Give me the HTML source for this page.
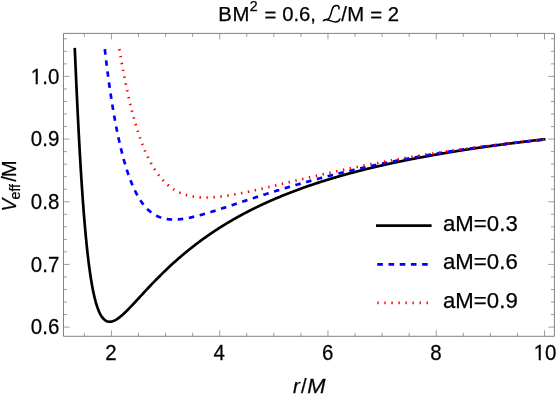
<!DOCTYPE html>
<html><head><meta charset="utf-8"><title>Veff plot</title>
<style>
html,body{margin:0;padding:0;background:#fff;}
body{width:556px;height:395px;overflow:hidden;}
svg{display:block;will-change:transform;}
text{font-family:"Liberation Sans",sans-serif;fill:#000;}
.tk text{font-size:21.0px;letter-spacing:0px;}
.ttl text{font-size:20.3px;}
.lg text{font-size:22.2px;letter-spacing:0.05px;}
text{stroke:#000;stroke-width:0.25px;}
.it{font-style:italic;}
</style></head><body>
<svg width="556" height="395" viewBox="0 0 556 395">
<rect x="0" y="0" width="556" height="395" fill="#fff"/>
<!-- curves -->
<g fill="none" stroke-linejoin="round" stroke-linecap="butt" stroke-width="2.7">
<path d="M74.76 47.87 L74.81 49.03 L74.86 50.18 L74.91 51.33 L74.96 52.47 L75.01 53.62 L75.06 54.76 L75.10 55.90 L75.15 57.04 L75.20 58.17 L75.25 59.31 L75.30 60.44 L75.35 61.56 L75.40 62.69 L75.45 63.81 L75.49 64.93 L75.54 66.05 L75.59 67.17 L75.64 68.28 L75.69 69.39 L75.74 70.50 L75.79 71.60 L75.84 72.70 L75.88 73.80 L75.93 74.90 L75.98 75.99 L76.03 77.09 L76.08 78.18 L76.13 79.26 L76.18 80.35 L76.23 81.43 L76.27 82.50 L76.32 83.58 L76.37 84.65 L76.42 85.72 L76.47 86.79 L76.52 87.85 L76.57 88.91 L76.62 89.97 L76.66 91.03 L76.71 92.08 L76.76 93.13 L76.81 94.18 L76.86 95.22 L76.91 96.26 L76.96 97.30 L77.01 98.33 L77.05 99.36 L77.10 100.39 L77.15 101.42 L77.20 102.44 L77.25 103.46 L77.30 104.48 L77.35 105.50 L77.40 106.51 L77.44 107.51 L77.49 108.52 L77.54 109.52 L77.59 110.52 L77.64 111.52 L77.69 112.51 L77.74 113.50 L77.78 114.49 L77.83 115.47 L77.88 116.45 L77.93 117.43 L77.98 118.41 L78.03 119.38 L78.08 120.35 L78.13 121.31 L78.17 122.27 L78.22 123.23 L78.27 124.19 L78.32 125.14 L78.37 126.09 L78.42 127.04 L78.47 127.98 L78.52 128.92 L78.56 129.86 L78.61 130.80 L78.66 131.73 L78.71 132.66 L78.76 133.58 L78.81 134.50 L78.86 135.42 L78.91 136.34 L78.95 137.25 L79.00 138.16 L79.05 139.07 L79.10 139.97 L79.15 140.87 L79.20 141.77 L79.25 142.66 L79.30 143.56 L79.34 144.44 L79.39 145.33 L79.44 146.21 L79.49 147.09 L79.54 147.96 L79.59 148.84 L79.64 149.71 L79.69 150.57 L79.73 151.44 L79.78 152.30 L79.83 153.15 L79.88 154.01 L79.93 154.86 L79.98 155.70 L80.03 156.55 L80.08 157.39 L80.12 158.23 L80.17 159.06 L80.22 159.90 L80.27 160.73 L80.32 161.55 L80.37 162.38 L80.42 163.20 L80.47 164.01 L80.51 164.83 L80.56 165.64 L80.61 166.45 L80.66 167.25 L80.71 168.05 L80.76 168.85 L80.81 169.65 L80.85 170.44 L80.90 171.23 L80.95 172.01 L81.00 172.80 L81.05 173.58 L81.10 174.36 L81.15 175.13 L81.20 175.90 L81.24 176.67 L81.29 177.44 L81.34 178.20 L81.39 178.96 L81.44 179.72 L81.49 180.47 L81.54 181.22 L81.59 181.97 L81.63 182.71 L81.68 183.45 L81.73 184.19 L81.78 184.93 L81.83 185.66 L81.88 186.39 L81.93 187.12 L81.98 187.84 L82.02 188.56 L82.07 189.28 L82.12 190.00 L82.17 190.71 L82.22 191.42 L82.27 192.13 L82.32 192.83 L82.37 193.53 L82.44 194.58 L82.51 195.62 L82.58 196.65 L82.66 197.68 L82.73 198.70 L82.80 199.72 L82.88 200.72 L82.95 201.73 L83.02 202.72 L83.10 203.71 L83.17 204.69 L83.24 205.67 L83.32 206.64 L83.39 207.61 L83.46 208.56 L83.53 209.52 L83.61 210.46 L83.68 211.40 L83.75 212.34 L83.83 213.27 L83.90 214.19 L83.97 215.10 L84.05 216.01 L84.12 216.92 L84.19 217.82 L84.27 218.71 L84.34 219.60 L84.41 220.48 L84.49 221.35 L84.56 222.22 L84.63 223.08 L84.70 223.94 L84.78 224.79 L84.85 225.64 L84.92 226.48 L85.00 227.32 L85.07 228.15 L85.14 228.97 L85.22 229.79 L85.29 230.60 L85.36 231.41 L85.44 232.21 L85.51 233.01 L85.58 233.80 L85.65 234.59 L85.73 235.37 L85.80 236.14 L85.87 236.91 L85.95 237.68 L86.02 238.44 L86.09 239.19 L86.17 239.94 L86.24 240.68 L86.31 241.42 L86.39 242.15 L86.46 242.88 L86.53 243.60 L86.60 244.32 L86.68 245.04 L86.75 245.74 L86.82 246.45 L86.90 247.14 L86.99 248.07 L87.09 248.98 L87.19 249.89 L87.29 250.78 L87.38 251.67 L87.48 252.55 L87.58 253.42 L87.68 254.29 L87.77 255.14 L87.87 255.99 L87.97 256.83 L88.07 257.66 L88.16 258.48 L88.26 259.29 L88.36 260.10 L88.46 260.90 L88.55 261.69 L88.65 262.47 L88.75 263.25 L88.85 264.01 L88.94 264.77 L89.04 265.53 L89.14 266.27 L89.24 267.01 L89.33 267.74 L89.43 268.46 L89.53 269.17 L89.63 269.88 L89.72 270.58 L89.82 271.28 L89.94 272.13 L90.06 272.98 L90.19 273.82 L90.31 274.64 L90.43 275.45 L90.55 276.26 L90.67 277.05 L90.80 277.83 L90.92 278.61 L91.04 279.37 L91.16 280.12 L91.28 280.86 L91.40 281.59 L91.53 282.32 L91.65 283.03 L91.77 283.73 L91.89 284.43 L92.04 285.25 L92.18 286.06 L92.33 286.85 L92.48 287.63 L92.62 288.40 L92.77 289.16 L92.92 289.90 L93.06 290.63 L93.21 291.35 L93.35 292.05 L93.50 292.75 L93.67 293.54 L93.84 294.32 L94.01 295.09 L94.18 295.84 L94.35 296.57 L94.52 297.29 L94.69 297.99 L94.86 298.68 L95.06 299.45 L95.25 300.20 L95.45 300.94 L95.64 301.66 L95.84 302.35 L96.03 303.04 L96.25 303.78 L96.47 304.51 L96.69 305.21 L96.91 305.90 L97.13 306.57 L97.37 307.28 L97.62 307.98 L97.86 308.65 L98.13 309.36 L98.40 310.05 L98.67 310.71 L98.96 311.40 L99.25 312.06 L99.57 312.74 L99.88 313.40 L100.22 314.07 L100.57 314.70 L100.93 315.34 L101.30 315.94 L101.69 316.54 L102.10 317.14 L102.54 317.72 L103.00 318.28 L103.49 318.82 L104.00 319.33 L104.54 319.80 L105.10 320.23 L105.68 320.62 L106.32 320.96 L106.97 321.25 L107.66 321.48 L108.36 321.64 L109.07 321.72 L109.78 321.75 L110.48 321.71 L111.19 321.61 L111.89 321.46 L112.58 321.27 L113.26 321.04 L113.92 320.77 L114.57 320.47 L115.21 320.16 L115.84 319.81 L116.45 319.45 L117.06 319.07 L117.64 318.68 L118.23 318.27 L118.81 317.85 L119.37 317.43 L119.94 316.99 L120.50 316.54 L121.06 316.08 L121.59 315.63 L122.13 315.16 L122.66 314.69 L123.20 314.21 L123.74 313.72 L124.27 313.22 L124.78 312.74 L125.30 312.25 L125.81 311.75 L126.32 311.25 L126.83 310.75 L127.34 310.24 L127.85 309.72 L128.37 309.21 L128.88 308.68 L129.39 308.16 L129.88 307.65 L130.36 307.15 L130.85 306.64 L131.34 306.12 L131.82 305.61 L132.31 305.09 L132.80 304.57 L133.29 304.05 L133.77 303.53 L134.26 303.01 L134.75 302.49 L135.24 301.96 L135.72 301.44 L136.21 300.91 L136.70 300.38 L137.18 299.85 L137.67 299.33 L138.16 298.80 L138.65 298.27 L139.13 297.74 L139.62 297.21 L140.11 296.68 L140.60 296.15 L141.08 295.62 L141.57 295.10 L142.06 294.57 L142.55 294.04 L143.03 293.51 L143.52 292.99 L144.01 292.46 L144.49 291.94 L144.98 291.41 L145.47 290.89 L145.96 290.37 L146.44 289.84 L146.93 289.32 L147.42 288.80 L147.91 288.28 L148.39 287.77 L148.88 287.25 L149.37 286.73 L149.85 286.22 L150.34 285.70 L150.83 285.19 L151.32 284.68 L151.80 284.17 L152.29 283.66 L152.78 283.16 L153.27 282.65 L153.75 282.15 L154.24 281.64 L154.75 281.12 L155.26 280.59 L155.77 280.07 L156.29 279.54 L156.80 279.02 L157.31 278.51 L157.82 277.99 L158.33 277.47 L158.84 276.96 L159.36 276.45 L159.87 275.94 L160.38 275.43 L160.89 274.92 L161.40 274.41 L161.91 273.91 L162.43 273.41 L162.94 272.91 L163.45 272.41 L163.96 271.91 L164.47 271.42 L164.98 270.93 L165.50 270.43 L166.01 269.94 L166.52 269.46 L167.03 268.97 L167.54 268.49 L168.05 268.00 L168.57 267.52 L169.08 267.04 L169.61 266.54 L170.15 266.05 L170.69 265.55 L171.22 265.05 L171.76 264.56 L172.29 264.07 L172.83 263.58 L173.37 263.10 L173.90 262.61 L174.44 262.13 L174.97 261.65 L175.51 261.17 L176.05 260.69 L176.58 260.22 L177.12 259.75 L177.65 259.28 L178.19 258.81 L178.73 258.34 L179.26 257.87 L179.80 257.41 L180.33 256.95 L180.87 256.49 L181.41 256.03 L181.94 255.58 L182.48 255.12 L183.01 254.67 L183.55 254.22 L184.11 253.75 L184.67 253.28 L185.23 252.82 L185.79 252.36 L186.35 251.89 L186.91 251.44 L187.47 250.98 L188.03 250.52 L188.59 250.07 L189.15 249.62 L189.71 249.17 L190.27 248.72 L190.83 248.28 L191.40 247.83 L191.96 247.39 L192.52 246.95 L193.08 246.52 L193.64 246.08 L194.20 245.65 L194.76 245.21 L195.32 244.78 L195.88 244.36 L196.44 243.93 L197.00 243.50 L197.56 243.08 L198.12 242.66 L198.70 242.22 L199.29 241.79 L199.87 241.35 L200.46 240.92 L201.04 240.49 L201.63 240.07 L202.21 239.64 L202.80 239.22 L203.38 238.79 L203.97 238.37 L204.55 237.96 L205.14 237.54 L205.72 237.13 L206.31 236.71 L206.89 236.30 L207.48 235.89 L208.06 235.49 L208.65 235.08 L209.23 234.68 L209.81 234.28 L210.40 233.88 L210.98 233.48 L211.57 233.08 L212.15 232.69 L212.74 232.30 L213.32 231.90 L213.91 231.52 L214.49 231.13 L215.08 230.74 L215.69 230.34 L216.30 229.94 L216.90 229.55 L217.51 229.15 L218.12 228.76 L218.73 228.37 L219.34 227.98 L219.95 227.59 L220.56 227.21 L221.17 226.82 L221.78 226.44 L222.39 226.06 L223.00 225.68 L223.60 225.30 L224.21 224.93 L224.82 224.56 L225.43 224.18 L226.04 223.81 L226.65 223.45 L227.26 223.08 L227.87 222.71 L228.48 222.35 L229.09 221.99 L229.70 221.63 L230.30 221.27 L230.91 220.91 L231.52 220.56 L232.13 220.20 L232.74 219.85 L233.35 219.50 L233.96 219.15 L234.57 218.80 L235.18 218.46 L235.81 218.10 L236.44 217.74 L237.08 217.39 L237.71 217.04 L238.35 216.68 L238.98 216.33 L239.61 215.99 L240.25 215.64 L240.88 215.29 L241.51 214.95 L242.15 214.61 L242.78 214.27 L243.41 213.93 L244.05 213.59 L244.68 213.26 L245.31 212.92 L245.95 212.59 L246.58 212.26 L247.21 211.93 L247.85 211.60 L248.48 211.27 L249.11 210.95 L249.75 210.63 L250.38 210.30 L251.01 209.98 L251.65 209.66 L252.28 209.34 L252.91 209.03 L253.55 208.71 L254.18 208.40 L254.82 208.09 L255.45 207.78 L256.08 207.47 L256.72 207.16 L257.35 206.85 L257.98 206.55 L258.62 206.24 L259.25 205.94 L259.88 205.64 L260.52 205.34 L261.15 205.04 L261.81 204.73 L262.47 204.42 L263.12 204.12 L263.78 203.81 L264.44 203.51 L265.10 203.21 L265.75 202.91 L266.41 202.61 L267.07 202.31 L267.73 202.01 L268.39 201.72 L269.04 201.42 L269.70 201.13 L270.36 200.84 L271.02 200.55 L271.68 200.26 L272.33 199.98 L272.99 199.69 L273.65 199.40 L274.31 199.12 L274.96 198.84 L275.62 198.56 L276.28 198.28 L276.94 198.00 L277.60 197.72 L278.25 197.45 L278.91 197.17 L279.57 196.90 L280.23 196.63 L280.89 196.35 L281.54 196.08 L282.20 195.82 L282.86 195.55 L283.52 195.28 L284.17 195.02 L284.83 194.75 L285.49 194.49 L286.15 194.23 L286.81 193.97 L287.46 193.71 L288.12 193.45 L288.78 193.19 L289.44 192.93 L290.09 192.68 L290.75 192.42 L291.41 192.17 L292.07 191.92 L292.73 191.67 L293.38 191.42 L294.04 191.17 L294.70 190.92 L295.36 190.68 L296.02 190.43 L296.67 190.18 L297.33 189.94 L297.99 189.70 L298.65 189.46 L299.30 189.22 L299.96 188.98 L300.64 188.73 L301.33 188.48 L302.01 188.24 L302.69 187.99 L303.37 187.75 L304.06 187.51 L304.74 187.27 L305.42 187.03 L306.10 186.79 L306.78 186.55 L307.47 186.31 L308.15 186.08 L308.83 185.84 L309.51 185.61 L310.20 185.38 L310.88 185.14 L311.56 184.91 L312.24 184.68 L312.92 184.45 L313.61 184.22 L314.29 184.00 L314.97 183.77 L315.65 183.55 L316.34 183.32 L317.02 183.10 L317.70 182.88 L318.38 182.65 L319.06 182.43 L319.75 182.21 L320.43 181.99 L321.11 181.78 L321.79 181.56 L322.47 181.34 L323.16 181.13 L323.84 180.91 L324.52 180.70 L325.20 180.49 L325.89 180.27 L326.57 180.06 L327.25 179.85 L327.93 179.64 L328.61 179.44 L329.30 179.23 L329.98 179.02 L330.66 178.82 L331.34 178.61 L332.03 178.41 L332.71 178.20 L333.39 178.00 L334.07 177.80 L334.75 177.60 L335.44 177.40 L336.12 177.20 L336.80 177.00 L337.48 176.80 L338.17 176.60 L338.85 176.41 L339.53 176.21 L340.21 176.02 L340.89 175.82 L341.58 175.63 L342.26 175.44 L342.94 175.24 L343.62 175.05 L344.31 174.86 L344.99 174.67 L345.67 174.48 L346.35 174.30 L347.03 174.11 L347.72 173.92 L348.40 173.74 L349.08 173.55 L349.76 173.37 L350.44 173.18 L351.13 173.00 L351.81 172.82 L352.49 172.63 L353.17 172.45 L353.86 172.27 L354.54 172.09 L355.22 171.91 L355.90 171.74 L356.58 171.56 L357.27 171.38 L357.95 171.20 L358.63 171.03 L359.31 170.85 L360.00 170.68 L360.68 170.50 L361.36 170.33 L362.04 170.16 L362.72 169.99 L363.41 169.82 L364.09 169.64 L364.77 169.47 L365.45 169.31 L366.14 169.14 L366.82 168.97 L367.50 168.80 L368.18 168.63 L368.86 168.47 L369.55 168.30 L370.23 168.14 L370.91 167.97 L371.59 167.81 L372.28 167.64 L372.96 167.48 L373.64 167.32 L374.32 167.16 L375.00 167.00 L375.69 166.84 L376.37 166.68 L377.05 166.52 L377.73 166.36 L378.42 166.20 L379.10 166.04 L379.78 165.89 L380.49 165.72 L381.19 165.56 L381.90 165.40 L382.61 165.24 L383.31 165.08 L384.02 164.92 L384.73 164.76 L385.43 164.60 L386.14 164.45 L386.85 164.29 L387.55 164.13 L388.26 163.98 L388.96 163.82 L389.67 163.67 L390.38 163.51 L391.08 163.36 L391.79 163.21 L392.50 163.05 L393.20 162.90 L393.91 162.75 L394.62 162.60 L395.32 162.45 L396.03 162.30 L396.74 162.15 L397.44 162.00 L398.15 161.85 L398.86 161.71 L399.56 161.56 L400.27 161.41 L400.98 161.27 L401.68 161.12 L402.39 160.97 L403.10 160.83 L403.80 160.69 L404.51 160.54 L405.22 160.40 L405.92 160.26 L406.63 160.11 L407.34 159.97 L408.04 159.83 L408.75 159.69 L409.46 159.55 L410.16 159.41 L410.87 159.27 L411.57 159.13 L412.28 158.99 L412.99 158.85 L413.69 158.72 L414.40 158.58 L415.11 158.44 L415.81 158.31 L416.52 158.17 L417.23 158.04 L417.93 157.90 L418.64 157.77 L419.35 157.63 L420.05 157.50 L420.76 157.37 L421.47 157.23 L422.17 157.10 L422.88 156.97 L423.59 156.84 L424.29 156.71 L425.00 156.58 L425.71 156.45 L426.41 156.32 L427.12 156.19 L427.83 156.06 L428.53 155.93 L429.24 155.80 L429.95 155.68 L430.65 155.55 L431.36 155.42 L432.07 155.30 L432.77 155.17 L433.48 155.04 L434.18 154.92 L434.89 154.79 L435.60 154.67 L436.30 154.55 L437.01 154.42 L437.72 154.30 L438.42 154.18 L439.13 154.05 L439.84 153.93 L440.54 153.81 L441.25 153.69 L441.96 153.57 L442.66 153.45 L443.37 153.33 L444.08 153.21 L444.78 153.09 L445.49 152.97 L446.20 152.85 L446.90 152.73 L447.61 152.61 L448.32 152.50 L449.02 152.38 L449.73 152.26 L450.44 152.15 L451.14 152.03 L451.85 151.92 L452.56 151.80 L453.26 151.68 L453.97 151.57 L454.68 151.46 L455.38 151.34 L456.09 151.23 L456.79 151.11 L457.50 151.00 L458.21 150.89 L458.91 150.78 L459.62 150.66 L460.33 150.55 L461.03 150.44 L461.74 150.33 L462.45 150.22 L463.15 150.11 L463.86 150.00 L464.57 149.89 L465.27 149.78 L465.98 149.67 L466.69 149.56 L467.39 149.46 L468.10 149.35 L468.81 149.24 L469.51 149.13 L470.22 149.03 L470.93 148.92 L471.63 148.81 L472.34 148.71 L473.05 148.60 L473.75 148.49 L474.46 148.39 L475.17 148.28 L475.87 148.18 L476.58 148.08 L477.29 147.97 L477.99 147.87 L478.70 147.76 L479.40 147.66 L480.11 147.56 L480.82 147.46 L481.52 147.35 L482.23 147.25 L482.94 147.15 L483.64 147.05 L484.35 146.95 L485.06 146.85 L485.76 146.75 L486.47 146.65 L487.18 146.55 L487.88 146.45 L488.59 146.35 L489.30 146.25 L490.00 146.15 L490.71 146.05 L491.42 145.95 L492.12 145.85 L492.83 145.76 L493.54 145.66 L494.24 145.56 L494.95 145.47 L495.66 145.37 L496.36 145.27 L497.07 145.18 L497.78 145.08 L498.48 144.98 L499.19 144.89 L499.90 144.79 L500.60 144.70 L501.31 144.60 L502.01 144.51 L502.72 144.42 L503.43 144.32 L504.13 144.23 L504.84 144.14 L505.55 144.04 L506.25 143.95 L506.96 143.86 L507.67 143.77 L508.37 143.67 L509.08 143.58 L509.79 143.49 L510.49 143.40 L511.20 143.31 L511.91 143.22 L512.61 143.13 L513.32 143.04 L514.03 142.95 L514.73 142.86 L515.44 142.77 L516.15 142.68 L516.85 142.59 L517.56 142.50 L518.27 142.41 L518.97 142.32 L519.68 142.23 L520.39 142.15 L521.09 142.06 L521.80 141.97 L522.51 141.88 L523.21 141.80 L523.92 141.71 L524.62 141.62 L525.33 141.54 L526.04 141.45 L526.74 141.36 L527.45 141.28 L528.16 141.19 L528.86 141.11 L529.57 141.02 L530.28 140.94 L530.98 140.85 L531.69 140.77 L532.40 140.68 L533.10 140.60 L533.81 140.52 L534.52 140.43 L535.22 140.35 L535.93 140.27 L536.64 140.18 L537.34 140.10 L538.05 140.02 L538.76 139.94 L539.46 139.85 L540.17 139.77 L540.88 139.69 L541.58 139.61 L542.29 139.53 L543.00 139.45 L543.70 139.37 L544.41 139.29 L545.12 139.21 L545.41 139.17" stroke="#000"/>
<path d="M104.83 49.21 L104.93 50.08 L105.02 50.95 L105.12 51.81 L105.22 52.66 L105.32 53.52 L105.41 54.36 L105.51 55.21 L105.61 56.04 L105.71 56.88 L105.80 57.71 L105.90 58.53 L106.00 59.35 L106.10 60.17 L106.19 60.98 L106.29 61.79 L106.39 62.60 L106.49 63.40 L106.58 64.20 L106.68 64.99 L106.78 65.78 L106.88 66.56 L106.97 67.34 L107.07 68.12 L107.17 68.89 L107.27 69.66 L107.36 70.42 L107.46 71.19 L107.56 71.94 L107.66 72.70 L107.75 73.45 L107.85 74.19 L107.95 74.94 L108.05 75.68 L108.14 76.41 L108.24 77.14 L108.34 77.87 L108.44 78.60 L108.53 79.32 L108.63 80.04 L108.73 80.75 L108.82 81.46 L108.92 82.17 L109.02 82.87 L109.12 83.57 L109.21 84.27 L109.31 84.97 L109.43 85.83 L109.56 86.69 L109.68 87.54 L109.80 88.39 L109.92 89.23 L110.04 90.07 L110.17 90.90 L110.29 91.73 L110.41 92.56 L110.53 93.37 L110.65 94.19 L110.77 95.00 L110.90 95.80 L111.02 96.60 L111.14 97.40 L111.26 98.19 L111.38 98.97 L111.51 99.76 L111.63 100.53 L111.75 101.30 L111.87 102.07 L111.99 102.84 L112.11 103.60 L112.24 104.35 L112.36 105.10 L112.48 105.85 L112.60 106.59 L112.72 107.33 L112.85 108.06 L112.97 108.79 L113.09 109.52 L113.21 110.24 L113.33 110.96 L113.45 111.67 L113.58 112.38 L113.70 113.09 L113.82 113.79 L113.94 114.48 L114.06 115.18 L114.19 115.87 L114.33 116.69 L114.48 117.51 L114.62 118.32 L114.77 119.12 L114.92 119.92 L115.06 120.72 L115.21 121.51 L115.35 122.29 L115.50 123.07 L115.65 123.85 L115.79 124.61 L115.94 125.38 L116.09 126.14 L116.23 126.89 L116.38 127.64 L116.52 128.38 L116.67 129.12 L116.82 129.85 L116.96 130.58 L117.11 131.30 L117.25 132.02 L117.40 132.74 L117.55 133.45 L117.69 134.15 L117.84 134.85 L117.99 135.54 L118.13 136.23 L118.28 136.92 L118.45 137.71 L118.62 138.50 L118.79 139.28 L118.96 140.06 L119.13 140.83 L119.30 141.59 L119.47 142.35 L119.64 143.10 L119.81 143.84 L119.98 144.58 L120.15 145.32 L120.32 146.04 L120.50 146.77 L120.67 147.48 L120.84 148.19 L121.01 148.90 L121.18 149.60 L121.35 150.29 L121.52 150.98 L121.69 151.66 L121.88 152.43 L122.08 153.20 L122.27 153.96 L122.47 154.71 L122.66 155.46 L122.86 156.20 L123.05 156.93 L123.25 157.65 L123.44 158.37 L123.64 159.09 L123.83 159.79 L124.03 160.49 L124.22 161.18 L124.42 161.87 L124.61 162.55 L124.81 163.22 L125.03 163.97 L125.25 164.71 L125.47 165.45 L125.69 166.17 L125.90 166.89 L126.12 167.60 L126.34 168.31 L126.56 169.00 L126.78 169.69 L127.00 170.38 L127.22 171.05 L127.44 171.72 L127.68 172.45 L127.93 173.17 L128.17 173.89 L128.41 174.60 L128.66 175.29 L128.90 175.98 L129.14 176.67 L129.39 177.34 L129.63 178.00 L129.88 178.66 L130.14 179.38 L130.41 180.08 L130.68 180.77 L130.95 181.46 L131.22 182.13 L131.48 182.80 L131.75 183.46 L132.02 184.11 L132.31 184.80 L132.60 185.49 L132.90 186.17 L133.19 186.83 L133.48 187.49 L133.77 188.14 L134.07 188.77 L134.38 189.45 L134.70 190.12 L135.02 190.77 L135.33 191.42 L135.65 192.05 L135.99 192.72 L136.33 193.38 L136.67 194.03 L137.01 194.66 L137.36 195.29 L137.72 195.94 L138.09 196.58 L138.45 197.21 L138.82 197.83 L139.18 198.43 L139.57 199.06 L139.96 199.68 L140.35 200.28 L140.74 200.87 L141.16 201.48 L141.57 202.07 L141.98 202.66 L142.40 203.23 L142.84 203.81 L143.28 204.38 L143.71 204.94 L144.18 205.51 L144.64 206.07 L145.10 206.61 L145.59 207.16 L146.08 207.70 L146.57 208.21 L147.05 208.72 L147.56 209.23 L148.08 209.72 L148.59 210.20 L149.12 210.68 L149.66 211.15 L150.22 211.62 L150.78 212.07 L151.34 212.51 L151.93 212.94 L152.51 213.36 L153.09 213.76 L153.70 214.15 L154.31 214.53 L154.92 214.89 L155.56 215.25 L156.19 215.59 L156.82 215.91 L157.46 216.22 L158.11 216.52 L158.77 216.80 L159.43 217.06 L160.09 217.31 L160.77 217.55 L161.45 217.78 L162.13 217.99 L162.82 218.18 L163.50 218.36 L164.18 218.53 L164.89 218.68 L165.59 218.82 L166.30 218.95 L167.01 219.06 L167.71 219.16 L168.42 219.25 L169.13 219.33 L169.83 219.39 L170.54 219.44 L171.25 219.48 L171.95 219.52 L172.66 219.54 L173.37 219.55 L174.07 219.55 L174.78 219.54 L175.49 219.52 L176.19 219.50 L176.90 219.46 L177.61 219.42 L178.31 219.37 L179.02 219.31 L179.72 219.25 L180.43 219.17 L181.14 219.09 L181.84 219.01 L182.55 218.92 L183.26 218.82 L183.96 218.72 L184.67 218.61 L185.38 218.49 L186.08 218.37 L186.79 218.25 L187.50 218.12 L188.20 217.98 L188.91 217.85 L189.62 217.70 L190.32 217.56 L191.03 217.40 L191.74 217.25 L192.44 217.09 L193.15 216.93 L193.83 216.77 L194.51 216.60 L195.20 216.44 L195.88 216.27 L196.56 216.10 L197.24 215.92 L197.92 215.75 L198.61 215.57 L199.29 215.38 L199.97 215.20 L200.65 215.01 L201.34 214.82 L202.02 214.63 L202.70 214.44 L203.38 214.25 L204.06 214.05 L204.75 213.85 L205.43 213.65 L206.11 213.45 L206.79 213.25 L207.48 213.05 L208.16 212.84 L208.84 212.63 L209.52 212.43 L210.20 212.22 L210.89 212.01 L211.57 211.80 L212.25 211.58 L212.93 211.37 L213.62 211.16 L214.30 210.94 L214.98 210.72 L215.66 210.51 L216.34 210.29 L217.03 210.07 L217.71 209.85 L218.39 209.63 L219.07 209.41 L219.76 209.19 L220.44 208.97 L221.12 208.75 L221.80 208.53 L222.48 208.30 L223.17 208.08 L223.85 207.86 L224.53 207.63 L225.21 207.41 L225.90 207.18 L226.58 206.96 L227.26 206.73 L227.94 206.51 L228.62 206.28 L229.31 206.05 L229.99 205.83 L230.67 205.60 L231.35 205.38 L232.03 205.15 L232.72 204.92 L233.40 204.70 L234.08 204.47 L234.76 204.24 L235.45 204.02 L236.13 203.79 L236.81 203.56 L237.49 203.34 L238.17 203.11 L238.86 202.88 L239.54 202.66 L240.22 202.43 L240.90 202.20 L241.59 201.98 L242.27 201.75 L242.95 201.53 L243.63 201.30 L244.31 201.08 L245.00 200.85 L245.68 200.63 L246.36 200.40 L247.04 200.18 L247.73 199.95 L248.41 199.73 L249.09 199.50 L249.77 199.28 L250.45 199.06 L251.14 198.83 L251.82 198.61 L252.50 198.39 L253.18 198.16 L253.87 197.94 L254.55 197.72 L255.23 197.50 L255.91 197.28 L256.59 197.06 L257.28 196.84 L257.96 196.61 L258.64 196.39 L259.32 196.18 L260.00 195.96 L260.69 195.74 L261.37 195.52 L262.05 195.30 L262.73 195.08 L263.42 194.86 L264.10 194.65 L264.78 194.43 L265.46 194.21 L266.14 194.00 L266.83 193.78 L267.51 193.57 L268.19 193.35 L268.87 193.14 L269.56 192.92 L270.24 192.71 L270.92 192.50 L271.60 192.28 L272.28 192.07 L272.97 191.86 L273.65 191.65 L274.33 191.43 L275.01 191.22 L275.70 191.01 L276.38 190.80 L277.06 190.59 L277.74 190.38 L278.42 190.18 L279.11 189.97 L279.79 189.76 L280.47 189.55 L281.15 189.34 L281.84 189.14 L282.52 188.93 L283.20 188.73 L283.88 188.52 L284.56 188.32 L285.25 188.11 L285.93 187.91 L286.61 187.70 L287.29 187.50 L287.98 187.30 L288.66 187.10 L289.34 186.89 L290.02 186.69 L290.70 186.49 L291.39 186.29 L292.07 186.09 L292.75 185.89 L293.43 185.69 L294.11 185.49 L294.80 185.30 L295.48 185.10 L296.16 184.90 L296.84 184.70 L297.53 184.51 L298.21 184.31 L298.89 184.12 L299.57 183.92 L300.25 183.73 L300.94 183.53 L301.62 183.34 L302.30 183.15 L302.98 182.95 L303.67 182.76 L304.35 182.57 L305.03 182.38 L305.71 182.19 L306.39 182.00 L307.08 181.81 L307.76 181.62 L308.44 181.43 L309.12 181.24 L309.81 181.05 L310.49 180.86 L311.17 180.68 L311.85 180.49 L312.53 180.30 L313.22 180.12 L313.90 179.93 L314.58 179.75 L315.26 179.56 L315.95 179.38 L316.63 179.20 L317.31 179.01 L317.99 178.83 L318.67 178.65 L319.36 178.47 L320.04 178.29 L320.72 178.10 L321.40 177.92 L322.08 177.74 L322.77 177.57 L323.45 177.39 L324.13 177.21 L324.81 177.03 L325.50 176.85 L326.18 176.68 L326.86 176.50 L327.54 176.32 L328.22 176.15 L328.91 175.97 L329.59 175.80 L330.27 175.62 L330.95 175.45 L331.64 175.28 L332.32 175.10 L333.00 174.93 L333.68 174.76 L334.36 174.59 L335.05 174.41 L335.73 174.24 L336.41 174.07 L337.09 173.90 L337.78 173.73 L338.46 173.57 L339.14 173.40 L339.82 173.23 L340.50 173.06 L341.19 172.89 L341.87 172.73 L342.55 172.56 L343.23 172.40 L343.92 172.23 L344.60 172.07 L345.28 171.90 L345.96 171.74 L346.64 171.57 L347.33 171.41 L348.01 171.25 L348.69 171.09 L349.37 170.92 L350.06 170.76 L350.74 170.60 L351.42 170.44 L352.10 170.28 L352.78 170.12 L353.47 169.96 L354.15 169.80 L354.83 169.64 L355.51 169.49 L356.19 169.33 L356.88 169.17 L357.58 169.01 L358.29 168.85 L359.00 168.69 L359.70 168.53 L360.41 168.37 L361.12 168.21 L361.82 168.05 L362.53 167.89 L363.24 167.73 L363.94 167.57 L364.65 167.41 L365.36 167.26 L366.06 167.10 L366.77 166.94 L367.48 166.79 L368.18 166.63 L368.89 166.48 L369.60 166.32 L370.30 166.17 L371.01 166.02 L371.71 165.86 L372.42 165.71 L373.13 165.56 L373.83 165.41 L374.54 165.26 L375.25 165.10 L375.95 164.95 L376.66 164.80 L377.37 164.65 L378.07 164.51 L378.78 164.36 L379.49 164.21 L380.19 164.06 L380.90 163.91 L381.61 163.77 L382.31 163.62 L383.02 163.47 L383.73 163.33 L384.43 163.18 L385.14 163.04 L385.85 162.89 L386.55 162.75 L387.26 162.61 L387.97 162.46 L388.67 162.32 L389.38 162.18 L390.09 162.04 L390.79 161.90 L391.50 161.76 L392.21 161.62 L392.91 161.48 L393.62 161.34 L394.32 161.20 L395.03 161.06 L395.74 160.92 L396.44 160.78 L397.15 160.64 L397.86 160.51 L398.56 160.37 L399.27 160.23 L399.98 160.10 L400.68 159.96 L401.39 159.83 L402.10 159.69 L402.80 159.56 L403.51 159.43 L404.22 159.29 L404.92 159.16 L405.63 159.03 L406.34 158.89 L407.04 158.76 L407.75 158.63 L408.46 158.50 L409.16 158.37 L409.87 158.24 L410.58 158.11 L411.28 157.98 L411.99 157.85 L412.70 157.72 L413.40 157.59 L414.11 157.47 L414.82 157.34 L415.52 157.21 L416.23 157.09 L416.93 156.96 L417.64 156.83 L418.35 156.71 L419.05 156.58 L419.76 156.46 L420.47 156.33 L421.17 156.21 L421.88 156.09 L422.59 155.96 L423.29 155.84 L424.00 155.72 L424.71 155.60 L425.41 155.48 L426.12 155.35 L426.83 155.23 L427.53 155.11 L428.24 154.99 L428.95 154.87 L429.65 154.75 L430.36 154.64 L431.07 154.52 L431.77 154.40 L432.48 154.28 L433.19 154.16 L433.89 154.05 L434.60 153.93 L435.31 153.81 L436.01 153.70 L436.72 153.58 L437.43 153.47 L438.13 153.35 L438.84 153.24 L439.54 153.12 L440.25 153.01 L440.96 152.90 L441.66 152.78 L442.37 152.67 L443.08 152.56 L443.78 152.45 L444.49 152.33 L445.20 152.22 L445.90 152.11 L446.61 152.00 L447.32 151.89 L448.02 151.78 L448.73 151.67 L449.44 151.56 L450.14 151.45 L450.85 151.34 L451.56 151.24 L452.26 151.13 L452.97 151.02 L453.68 150.91 L454.38 150.81 L455.09 150.70 L455.80 150.60 L456.50 150.49 L457.21 150.38 L457.92 150.28 L458.62 150.17 L459.33 150.07 L460.04 149.97 L460.74 149.86 L461.45 149.76 L462.15 149.66 L462.86 149.55 L463.57 149.45 L464.27 149.35 L464.98 149.25 L465.69 149.15 L466.39 149.04 L467.10 148.94 L467.81 148.84 L468.51 148.74 L469.22 148.64 L469.93 148.54 L470.63 148.44 L471.34 148.35 L472.05 148.25 L472.75 148.15 L473.46 148.05 L474.17 147.95 L474.87 147.86 L475.58 147.76 L476.29 147.66 L476.99 147.57 L477.70 147.47 L478.41 147.38 L479.11 147.28 L479.82 147.18 L480.53 147.09 L481.23 147.00 L481.94 146.90 L482.65 146.81 L483.35 146.71 L484.06 146.62 L484.76 146.53 L485.47 146.44 L486.18 146.34 L486.88 146.25 L487.59 146.16 L488.30 146.07 L489.00 145.98 L489.71 145.89 L490.42 145.80 L491.12 145.71 L491.83 145.62 L492.54 145.53 L493.24 145.44 L493.95 145.35 L494.66 145.26 L495.36 145.17 L496.07 145.08 L496.78 145.00 L497.48 144.91 L498.19 144.82 L498.90 144.73 L499.60 144.65 L500.31 144.56 L501.02 144.47 L501.72 144.39 L502.43 144.30 L503.14 144.22 L503.84 144.13 L504.55 144.05 L505.26 143.96 L505.96 143.88 L506.67 143.80 L507.37 143.71 L508.08 143.63 L508.79 143.55 L509.49 143.46 L510.20 143.38 L510.91 143.30 L511.61 143.22 L512.32 143.14 L513.03 143.05 L513.73 142.97 L514.44 142.89 L515.15 142.81 L515.85 142.73 L516.56 142.65 L517.27 142.57 L517.97 142.49 L518.68 142.41 L519.39 142.33 L520.09 142.26 L520.80 142.18 L521.51 142.10 L522.21 142.02 L522.92 141.94 L523.63 141.87 L524.33 141.79 L525.04 141.71 L525.75 141.64 L526.45 141.56 L527.16 141.48 L527.87 141.41 L528.57 141.33 L529.28 141.26 L529.98 141.18 L530.69 141.11 L531.40 141.03 L532.10 140.96 L532.81 140.88 L533.52 140.81 L534.22 140.74 L534.93 140.66 L535.64 140.59 L536.34 140.52 L537.05 140.44 L537.76 140.37 L538.46 140.30 L539.17 140.23 L539.88 140.16 L540.58 140.09 L541.29 140.01 L542.00 139.94 L542.70 139.87 L543.41 139.80 L544.12 139.73 L544.82 139.66 L545.41 139.60" stroke="#0000ff" stroke-dasharray="5.5 5.65"/>
<path d="M119.37 49.06 L119.50 49.79 L119.62 50.53 L119.74 51.26 L119.86 51.98 L119.98 52.71 L120.11 53.43 L120.23 54.15 L120.35 54.86 L120.47 55.57 L120.59 56.28 L120.71 56.99 L120.84 57.69 L120.96 58.39 L121.08 59.09 L121.20 59.79 L121.32 60.48 L121.45 61.17 L121.59 61.99 L121.74 62.81 L121.88 63.63 L122.03 64.44 L122.18 65.25 L122.32 66.05 L122.47 66.85 L122.62 67.65 L122.76 68.44 L122.91 69.23 L123.05 70.01 L123.20 70.79 L123.35 71.57 L123.49 72.34 L123.64 73.11 L123.78 73.87 L123.93 74.63 L124.08 75.39 L124.22 76.14 L124.37 76.89 L124.52 77.63 L124.66 78.38 L124.81 79.11 L124.95 79.85 L125.10 80.58 L125.25 81.30 L125.39 82.03 L125.54 82.75 L125.69 83.46 L125.83 84.17 L125.98 84.88 L126.12 85.59 L126.27 86.29 L126.42 86.98 L126.56 87.68 L126.71 88.37 L126.85 89.05 L127.03 89.85 L127.20 90.64 L127.37 91.43 L127.54 92.21 L127.71 92.99 L127.88 93.76 L128.05 94.53 L128.22 95.29 L128.39 96.05 L128.56 96.80 L128.73 97.55 L128.90 98.30 L129.07 99.04 L129.24 99.77 L129.41 100.50 L129.58 101.23 L129.75 101.95 L129.92 102.67 L130.09 103.38 L130.27 104.09 L130.44 104.79 L130.61 105.49 L130.78 106.19 L130.95 106.88 L131.12 107.56 L131.29 108.25 L131.48 109.02 L131.68 109.79 L131.87 110.55 L132.07 111.31 L132.26 112.06 L132.46 112.81 L132.65 113.55 L132.85 114.29 L133.04 115.02 L133.24 115.74 L133.43 116.46 L133.63 117.18 L133.82 117.89 L134.02 118.59 L134.21 119.29 L134.41 119.98 L134.60 120.67 L134.80 121.36 L134.99 122.04 L135.19 122.71 L135.41 123.46 L135.63 124.21 L135.84 124.95 L136.06 125.68 L136.28 126.41 L136.50 127.13 L136.72 127.84 L136.94 128.55 L137.16 129.26 L137.38 129.95 L137.60 130.64 L137.82 131.33 L138.04 132.01 L138.26 132.68 L138.48 133.35 L138.72 134.09 L138.96 134.82 L139.21 135.54 L139.45 136.25 L139.69 136.96 L139.94 137.66 L140.18 138.36 L140.43 139.05 L140.67 139.73 L140.91 140.40 L141.16 141.07 L141.40 141.73 L141.67 142.46 L141.94 143.17 L142.20 143.87 L142.47 144.57 L142.74 145.26 L143.01 145.95 L143.28 146.62 L143.54 147.29 L143.81 147.96 L144.08 148.61 L144.35 149.26 L144.64 149.96 L144.93 150.65 L145.23 151.33 L145.52 152.00 L145.81 152.67 L146.10 153.33 L146.39 153.98 L146.69 154.62 L147.00 155.31 L147.32 155.99 L147.64 156.66 L147.95 157.32 L148.27 157.97 L148.59 158.62 L148.90 159.25 L149.22 159.88 L149.56 160.55 L149.90 161.20 L150.24 161.85 L150.59 162.49 L150.93 163.12 L151.27 163.74 L151.61 164.35 L151.97 165.00 L152.34 165.63 L152.70 166.26 L153.07 166.88 L153.44 167.48 L153.80 168.08 L154.19 168.71 L154.58 169.32 L154.97 169.93 L155.36 170.53 L155.75 171.11 L156.16 171.72 L156.58 172.32 L156.99 172.91 L157.41 173.49 L157.82 174.06 L158.26 174.65 L158.70 175.23 L159.14 175.80 L159.58 176.36 L160.01 176.90 L160.48 177.47 L160.94 178.02 L161.40 178.56 L161.87 179.09 L162.35 179.64 L162.84 180.17 L163.33 180.69 L163.82 181.21 L164.33 181.73 L164.84 182.24 L165.35 182.74 L165.86 183.23 L166.40 183.72 L166.93 184.21 L167.47 184.68 L168.01 185.14 L168.57 185.61 L169.13 186.06 L169.69 186.50 L170.25 186.94 L170.83 187.37 L171.42 187.80 L172.00 188.21 L172.59 188.60 L173.17 188.99 L173.78 189.38 L174.39 189.76 L175.00 190.12 L175.61 190.48 L176.24 190.83 L176.87 191.18 L177.51 191.51 L178.14 191.83 L178.77 192.14 L179.43 192.44 L180.09 192.74 L180.75 193.02 L181.41 193.30 L182.06 193.56 L182.72 193.81 L183.38 194.05 L184.06 194.29 L184.74 194.52 L185.43 194.74 L186.11 194.94 L186.79 195.14 L187.47 195.33 L188.15 195.51 L188.84 195.68 L189.52 195.84 L190.23 196.00 L190.93 196.14 L191.64 196.28 L192.35 196.41 L193.05 196.53 L193.76 196.65 L194.47 196.75 L195.17 196.85 L195.88 196.94 L196.58 197.02 L197.29 197.10 L198.00 197.17 L198.70 197.23 L199.41 197.29 L200.12 197.33 L200.82 197.38 L201.53 197.41 L202.24 197.44 L202.94 197.47 L203.65 197.48 L204.36 197.50 L205.06 197.50 L205.77 197.51 L206.48 197.50 L207.18 197.50 L207.89 197.48 L208.60 197.47 L209.30 197.44 L210.01 197.42 L210.72 197.39 L211.42 197.35 L212.13 197.31 L212.84 197.27 L213.54 197.22 L214.25 197.17 L214.96 197.11 L215.66 197.06 L216.37 196.99 L217.08 196.93 L217.78 196.86 L218.49 196.79 L219.19 196.71 L219.90 196.63 L220.61 196.55 L221.31 196.47 L222.02 196.38 L222.73 196.29 L223.43 196.20 L224.14 196.10 L224.85 196.01 L225.55 195.91 L226.26 195.80 L226.97 195.70 L227.67 195.59 L228.38 195.48 L229.09 195.37 L229.79 195.26 L230.50 195.14 L231.21 195.02 L231.91 194.90 L232.62 194.78 L233.33 194.66 L234.03 194.53 L234.74 194.41 L235.45 194.28 L236.15 194.15 L236.86 194.02 L237.57 193.89 L238.27 193.75 L238.98 193.62 L239.69 193.48 L240.39 193.34 L241.10 193.20 L241.80 193.06 L242.51 192.92 L243.22 192.77 L243.92 192.63 L244.63 192.48 L245.34 192.34 L246.04 192.19 L246.75 192.04 L247.46 191.89 L248.16 191.74 L248.87 191.59 L249.58 191.43 L250.28 191.28 L250.99 191.13 L251.70 190.97 L252.40 190.82 L253.11 190.66 L253.82 190.50 L254.52 190.35 L255.23 190.19 L255.94 190.03 L256.64 189.87 L257.35 189.71 L258.06 189.55 L258.76 189.39 L259.47 189.22 L260.18 189.06 L260.86 188.90 L261.54 188.75 L262.22 188.59 L262.90 188.43 L263.59 188.27 L264.27 188.11 L264.95 187.95 L265.63 187.79 L266.32 187.63 L267.00 187.47 L267.68 187.31 L268.36 187.15 L269.04 186.99 L269.73 186.83 L270.41 186.67 L271.09 186.50 L271.77 186.34 L272.46 186.18 L273.14 186.02 L273.82 185.86 L274.50 185.69 L275.18 185.53 L275.87 185.37 L276.55 185.20 L277.23 185.04 L277.91 184.88 L278.59 184.71 L279.28 184.55 L279.96 184.39 L280.64 184.22 L281.32 184.06 L282.01 183.90 L282.69 183.73 L283.37 183.57 L284.05 183.41 L284.73 183.24 L285.42 183.08 L286.10 182.92 L286.78 182.75 L287.46 182.59 L288.15 182.43 L288.83 182.26 L289.51 182.10 L290.19 181.94 L290.87 181.77 L291.56 181.61 L292.24 181.45 L292.92 181.29 L293.60 181.12 L294.29 180.96 L294.97 180.80 L295.65 180.64 L296.33 180.47 L297.01 180.31 L297.70 180.15 L298.38 179.99 L299.06 179.83 L299.74 179.67 L300.43 179.50 L301.11 179.34 L301.79 179.18 L302.47 179.02 L303.15 178.86 L303.84 178.70 L304.52 178.54 L305.20 178.38 L305.88 178.22 L306.56 178.06 L307.25 177.90 L307.93 177.74 L308.61 177.58 L309.29 177.42 L309.98 177.27 L310.66 177.11 L311.34 176.95 L312.02 176.79 L312.70 176.63 L313.39 176.48 L314.07 176.32 L314.75 176.16 L315.46 176.00 L316.16 175.84 L316.87 175.68 L317.58 175.52 L318.28 175.35 L318.99 175.19 L319.70 175.03 L320.40 174.87 L321.11 174.71 L321.82 174.55 L322.52 174.39 L323.23 174.23 L323.94 174.07 L324.64 173.92 L325.35 173.76 L326.06 173.60 L326.76 173.44 L327.47 173.28 L328.18 173.13 L328.88 172.97 L329.59 172.81 L330.30 172.66 L331.00 172.50 L331.71 172.35 L332.42 172.19 L333.12 172.04 L333.83 171.88 L334.54 171.73 L335.24 171.57 L335.95 171.42 L336.65 171.27 L337.36 171.11 L338.07 170.96 L338.77 170.81 L339.48 170.66 L340.19 170.51 L340.89 170.35 L341.60 170.20 L342.31 170.05 L343.01 169.90 L343.72 169.75 L344.43 169.60 L345.13 169.45 L345.84 169.30 L346.55 169.16 L347.25 169.01 L347.96 168.86 L348.67 168.71 L349.37 168.56 L350.08 168.42 L350.79 168.27 L351.49 168.12 L352.20 167.98 L352.91 167.83 L353.61 167.69 L354.32 167.54 L355.03 167.40 L355.73 167.25 L356.44 167.11 L357.15 166.97 L357.85 166.82 L358.56 166.68 L359.26 166.54 L359.97 166.40 L360.68 166.25 L361.38 166.11 L362.09 165.97 L362.80 165.83 L363.50 165.69 L364.21 165.55 L364.92 165.41 L365.62 165.27 L366.33 165.13 L367.04 164.99 L367.74 164.86 L368.45 164.72 L369.16 164.58 L369.86 164.44 L370.57 164.31 L371.28 164.17 L371.98 164.03 L372.69 163.90 L373.40 163.76 L374.10 163.63 L374.81 163.49 L375.52 163.36 L376.22 163.22 L376.93 163.09 L377.64 162.96 L378.34 162.82 L379.05 162.69 L379.76 162.56 L380.46 162.43 L381.17 162.29 L381.87 162.16 L382.58 162.03 L383.29 161.90 L383.99 161.77 L384.70 161.64 L385.41 161.51 L386.11 161.38 L386.82 161.25 L387.53 161.12 L388.23 160.99 L388.94 160.87 L389.65 160.74 L390.35 160.61 L391.06 160.48 L391.77 160.36 L392.47 160.23 L393.18 160.11 L393.89 159.98 L394.59 159.85 L395.30 159.73 L396.01 159.60 L396.71 159.48 L397.42 159.36 L398.13 159.23 L398.83 159.11 L399.54 158.99 L400.25 158.86 L400.95 158.74 L401.66 158.62 L402.37 158.50 L403.07 158.38 L403.78 158.25 L404.48 158.13 L405.19 158.01 L405.90 157.89 L406.60 157.77 L407.31 157.65 L408.02 157.54 L408.72 157.42 L409.43 157.30 L410.14 157.18 L410.84 157.06 L411.55 156.94 L412.26 156.83 L412.96 156.71 L413.67 156.59 L414.38 156.48 L415.08 156.36 L415.79 156.25 L416.50 156.13 L417.20 156.02 L417.91 155.90 L418.62 155.79 L419.32 155.67 L420.03 155.56 L420.74 155.45 L421.44 155.33 L422.15 155.22 L422.86 155.11 L423.56 154.99 L424.27 154.88 L424.98 154.77 L425.68 154.66 L426.39 154.55 L427.09 154.44 L427.80 154.33 L428.51 154.22 L429.21 154.11 L429.92 154.00 L430.63 153.89 L431.33 153.78 L432.04 153.67 L432.75 153.56 L433.45 153.46 L434.16 153.35 L434.87 153.24 L435.57 153.13 L436.28 153.03 L436.99 152.92 L437.69 152.81 L438.40 152.71 L439.11 152.60 L439.81 152.50 L440.52 152.39 L441.23 152.29 L441.93 152.18 L442.64 152.08 L443.35 151.97 L444.05 151.87 L444.76 151.77 L445.47 151.66 L446.17 151.56 L446.88 151.46 L447.59 151.36 L448.29 151.26 L449.00 151.15 L449.70 151.05 L450.41 150.95 L451.12 150.85 L451.82 150.75 L452.53 150.65 L453.24 150.55 L453.94 150.45 L454.65 150.35 L455.36 150.25 L456.06 150.15 L456.77 150.05 L457.48 149.96 L458.18 149.86 L458.89 149.76 L459.60 149.66 L460.30 149.57 L461.01 149.47 L461.72 149.37 L462.42 149.28 L463.13 149.18 L463.84 149.08 L464.54 148.99 L465.25 148.89 L465.96 148.80 L466.66 148.70 L467.37 148.61 L468.08 148.51 L468.78 148.42 L469.49 148.33 L470.20 148.23 L470.90 148.14 L471.61 148.05 L472.31 147.95 L473.02 147.86 L473.73 147.77 L474.43 147.68 L475.14 147.58 L475.85 147.49 L476.55 147.40 L477.26 147.31 L477.97 147.22 L478.67 147.13 L479.38 147.04 L480.09 146.95 L480.79 146.86 L481.50 146.77 L482.21 146.68 L482.91 146.59 L483.62 146.50 L484.33 146.42 L485.03 146.33 L485.74 146.24 L486.45 146.15 L487.15 146.06 L487.86 145.98 L488.57 145.89 L489.27 145.80 L489.98 145.72 L490.69 145.63 L491.39 145.54 L492.10 145.46 L492.81 145.37 L493.51 145.29 L494.22 145.20 L494.92 145.12 L495.63 145.03 L496.34 144.95 L497.04 144.86 L497.75 144.78 L498.46 144.70 L499.16 144.61 L499.87 144.53 L500.58 144.45 L501.28 144.36 L501.99 144.28 L502.70 144.20 L503.40 144.12 L504.11 144.03 L504.82 143.95 L505.52 143.87 L506.23 143.79 L506.94 143.71 L507.64 143.63 L508.35 143.55 L509.06 143.47 L509.76 143.39 L510.47 143.31 L511.18 143.23 L511.88 143.15 L512.59 143.07 L513.30 142.99 L514.00 142.91 L514.71 142.83 L515.42 142.75 L516.12 142.67 L516.83 142.60 L517.53 142.52 L518.24 142.44 L518.95 142.36 L519.65 142.29 L520.36 142.21 L521.07 142.13 L521.77 142.06 L522.48 141.98 L523.19 141.90 L523.89 141.83 L524.60 141.75 L525.31 141.68 L526.01 141.60 L526.72 141.53 L527.43 141.45 L528.13 141.38 L528.84 141.30 L529.55 141.23 L530.25 141.15 L530.96 141.08 L531.67 141.01 L532.37 140.93 L533.08 140.86 L533.79 140.79 L534.49 140.71 L535.20 140.64 L535.91 140.57 L536.61 140.50 L537.32 140.42 L538.03 140.35 L538.73 140.28 L539.44 140.21 L540.14 140.14 L540.85 140.07 L541.56 140.00 L542.26 139.92 L542.97 139.85 L543.68 139.78 L544.38 139.71 L545.09 139.64 L545.41 139.61" stroke="#ff0000" stroke-dasharray="1.4 5.57"/>
</g>
<!-- frame -->
<g stroke="#757575" stroke-width="0.7" fill="none">
<line x1="84.33" y1="336.3" x2="84.33" y2="332.80"/>
<line x1="84.33" y1="33.4" x2="84.33" y2="36.90"/>
<line x1="111.40" y1="336.3" x2="111.40" y2="330.20"/>
<line x1="111.40" y1="33.4" x2="111.40" y2="39.50"/>
<line x1="138.47" y1="336.3" x2="138.47" y2="332.80"/>
<line x1="138.47" y1="33.4" x2="138.47" y2="36.90"/>
<line x1="165.54" y1="336.3" x2="165.54" y2="332.80"/>
<line x1="165.54" y1="33.4" x2="165.54" y2="36.90"/>
<line x1="192.61" y1="336.3" x2="192.61" y2="332.80"/>
<line x1="192.61" y1="33.4" x2="192.61" y2="36.90"/>
<line x1="219.68" y1="336.3" x2="219.68" y2="330.20"/>
<line x1="219.68" y1="33.4" x2="219.68" y2="39.50"/>
<line x1="246.75" y1="336.3" x2="246.75" y2="332.80"/>
<line x1="246.75" y1="33.4" x2="246.75" y2="36.90"/>
<line x1="273.82" y1="336.3" x2="273.82" y2="332.80"/>
<line x1="273.82" y1="33.4" x2="273.82" y2="36.90"/>
<line x1="300.89" y1="336.3" x2="300.89" y2="332.80"/>
<line x1="300.89" y1="33.4" x2="300.89" y2="36.90"/>
<line x1="327.96" y1="336.3" x2="327.96" y2="330.20"/>
<line x1="327.96" y1="33.4" x2="327.96" y2="39.50"/>
<line x1="355.03" y1="336.3" x2="355.03" y2="332.80"/>
<line x1="355.03" y1="33.4" x2="355.03" y2="36.90"/>
<line x1="382.10" y1="336.3" x2="382.10" y2="332.80"/>
<line x1="382.10" y1="33.4" x2="382.10" y2="36.90"/>
<line x1="409.17" y1="336.3" x2="409.17" y2="332.80"/>
<line x1="409.17" y1="33.4" x2="409.17" y2="36.90"/>
<line x1="436.24" y1="336.3" x2="436.24" y2="330.20"/>
<line x1="436.24" y1="33.4" x2="436.24" y2="39.50"/>
<line x1="463.31" y1="336.3" x2="463.31" y2="332.80"/>
<line x1="463.31" y1="33.4" x2="463.31" y2="36.90"/>
<line x1="490.38" y1="336.3" x2="490.38" y2="332.80"/>
<line x1="490.38" y1="33.4" x2="490.38" y2="36.90"/>
<line x1="517.45" y1="336.3" x2="517.45" y2="332.80"/>
<line x1="517.45" y1="33.4" x2="517.45" y2="36.90"/>
<line x1="544.52" y1="336.3" x2="544.52" y2="330.20"/>
<line x1="544.52" y1="33.4" x2="544.52" y2="39.50"/>
<line x1="63.5" y1="327.10" x2="69.60" y2="327.10"/>
<line x1="554.4" y1="327.10" x2="548.30" y2="327.10"/>
<line x1="63.5" y1="314.56" x2="67.00" y2="314.56"/>
<line x1="554.4" y1="314.56" x2="550.90" y2="314.56"/>
<line x1="63.5" y1="302.03" x2="67.00" y2="302.03"/>
<line x1="554.4" y1="302.03" x2="550.90" y2="302.03"/>
<line x1="63.5" y1="289.50" x2="67.00" y2="289.50"/>
<line x1="554.4" y1="289.50" x2="550.90" y2="289.50"/>
<line x1="63.5" y1="276.96" x2="67.00" y2="276.96"/>
<line x1="554.4" y1="276.96" x2="550.90" y2="276.96"/>
<line x1="63.5" y1="264.42" x2="69.60" y2="264.42"/>
<line x1="554.4" y1="264.42" x2="548.30" y2="264.42"/>
<line x1="63.5" y1="251.89" x2="67.00" y2="251.89"/>
<line x1="554.4" y1="251.89" x2="550.90" y2="251.89"/>
<line x1="63.5" y1="239.36" x2="67.00" y2="239.36"/>
<line x1="554.4" y1="239.36" x2="550.90" y2="239.36"/>
<line x1="63.5" y1="226.82" x2="67.00" y2="226.82"/>
<line x1="554.4" y1="226.82" x2="550.90" y2="226.82"/>
<line x1="63.5" y1="214.28" x2="67.00" y2="214.28"/>
<line x1="554.4" y1="214.28" x2="550.90" y2="214.28"/>
<line x1="63.5" y1="201.75" x2="69.60" y2="201.75"/>
<line x1="554.4" y1="201.75" x2="548.30" y2="201.75"/>
<line x1="63.5" y1="189.21" x2="67.00" y2="189.21"/>
<line x1="554.4" y1="189.21" x2="550.90" y2="189.21"/>
<line x1="63.5" y1="176.68" x2="67.00" y2="176.68"/>
<line x1="554.4" y1="176.68" x2="550.90" y2="176.68"/>
<line x1="63.5" y1="164.15" x2="67.00" y2="164.15"/>
<line x1="554.4" y1="164.15" x2="550.90" y2="164.15"/>
<line x1="63.5" y1="151.61" x2="67.00" y2="151.61"/>
<line x1="554.4" y1="151.61" x2="550.90" y2="151.61"/>
<line x1="63.5" y1="139.07" x2="69.60" y2="139.07"/>
<line x1="554.4" y1="139.07" x2="548.30" y2="139.07"/>
<line x1="63.5" y1="126.54" x2="67.00" y2="126.54"/>
<line x1="554.4" y1="126.54" x2="550.90" y2="126.54"/>
<line x1="63.5" y1="114.00" x2="67.00" y2="114.00"/>
<line x1="554.4" y1="114.00" x2="550.90" y2="114.00"/>
<line x1="63.5" y1="101.47" x2="67.00" y2="101.47"/>
<line x1="554.4" y1="101.47" x2="550.90" y2="101.47"/>
<line x1="63.5" y1="88.94" x2="67.00" y2="88.94"/>
<line x1="554.4" y1="88.94" x2="550.90" y2="88.94"/>
<line x1="63.5" y1="76.40" x2="69.60" y2="76.40"/>
<line x1="554.4" y1="76.40" x2="548.30" y2="76.40"/>
<line x1="63.5" y1="63.86" x2="67.00" y2="63.86"/>
<line x1="554.4" y1="63.86" x2="550.90" y2="63.86"/>
<line x1="63.5" y1="51.33" x2="67.00" y2="51.33"/>
<line x1="554.4" y1="51.33" x2="550.90" y2="51.33"/>
<line x1="63.5" y1="38.79" x2="67.00" y2="38.79"/>
<line x1="554.4" y1="38.79" x2="550.90" y2="38.79"/>
</g>
<rect x="63.5" y="33.4" width="490.90" height="302.90" fill="none" stroke="#757575" stroke-width="0.9" stroke-linejoin="round"/>
<!-- tick labels -->
<g class="tk">
<text transform="translate(111.00 360.0) scale(0.975 1.06)" text-anchor="middle">2</text>
<text transform="translate(219.28 360.0) scale(0.975 1.06)" text-anchor="middle">4</text>
<text transform="translate(327.56 360.0) scale(0.975 1.06)" text-anchor="middle">6</text>
<text transform="translate(435.84 360.0) scale(0.975 1.06)" text-anchor="middle">8</text>
<text transform="translate(545.12 360.0) scale(0.975 1.06)" text-anchor="middle">10</text>
<text transform="translate(59.3 334.25) scale(0.975 1.07)" text-anchor="end">0.6</text>
<text transform="translate(59.3 271.58) scale(0.975 1.07)" text-anchor="end">0.7</text>
<text transform="translate(59.3 208.90) scale(0.975 1.07)" text-anchor="end">0.8</text>
<text transform="translate(59.3 146.22) scale(0.975 1.07)" text-anchor="end">0.9</text>
<text transform="translate(59.3 83.55) scale(0.975 1.07)" text-anchor="end">1.0</text>
</g>
<!-- trim the foot serifs of the digit 1 so it matches the sans '1' of the original -->
<g fill="#fff" stroke="none">
<rect x="31.3" y="81.6" width="4.38" height="3.8"/>
<rect x="37.76" y="81.6" width="4.8" height="3.8"/>
<rect x="533.6" y="357.6" width="5.08" height="3.8"/>
<rect x="540.76" y="357.6" width="4.5" height="3.8"/>
</g>
<!-- title -->
<g class="ttl">
<text x="218.3" y="20.6">B</text>
<text x="232.5" y="20.6">M</text>
<text x="249.7" y="11.2" style="font-size:14.2px">2</text>
<text x="264.5" y="22.4">=</text>
<text x="282.15" y="20.6">0.6,</text>
<path d="M338.9 8.9 C339.6 7 338.4 5.6 336.4 5.6 C334.2 5.6 332.9 7.2 332.3 9 C331.7 11 331.5 12 331 13.6 C330.5 15.2 330.2 16.3 329.5 17.6 C328.8 18.9 327.5 19.7 326 19.7 C324.8 19.7 323.9 20.2 323.3 20.8 C324.6 19.6 326.6 19.4 328.4 20 C330.8 20.8 333.2 22 335.6 21.9 C337.8 21.8 339.3 20.6 339.9 18.9" fill="none" stroke="#000" stroke-width="1.5" stroke-linecap="round" stroke-linejoin="round"/>
<text x="341.2" y="20.8">/</text>
<text x="347.2" y="20.8">M</text>
<text x="370.3" y="22.4">=</text>
<text x="387.8" y="20.6">2</text>
</g>
<!-- x label -->
<g class="ttl">
<text x="293.0" y="392.6" class="it">r</text>
<text x="300.9" y="392.6">/</text>
<text transform="translate(307.2 392.6) scale(1.08 1)" class="it">M</text>
</g>
<!-- y label -->
<g class="ttl" transform="translate(16 184.6) rotate(-90)">
<text transform="translate(-27.0 0) scale(0.95 1)" class="it">V</text>
<text x="-14.9" y="4.1" style="font-size:14.2px">eff</text>
<text x="2.8" y="0">/</text>
<text x="7.4" y="0">M</text>
</g>
<!-- legend -->
<g fill="none" stroke-width="2.7">
<line x1="376" y1="225.7" x2="431.6" y2="225.7" stroke="#000"/>
<line x1="377.3" y1="264.4" x2="431.6" y2="264.4" stroke="#0000ff" stroke-dasharray="5.6 5.6"/>
<line x1="377.3" y1="302.8" x2="431.6" y2="302.8" stroke="#ff0000" stroke-dasharray="1.4 5.63"/>
</g>
<g class="lg">
<text x="442.9" y="230.7">aM=0.3</text>
<text x="442.9" y="269.4">aM=0.6</text>
<text x="442.9" y="307.8">aM=0.9</text>
</g>
</svg>
</body></html>
